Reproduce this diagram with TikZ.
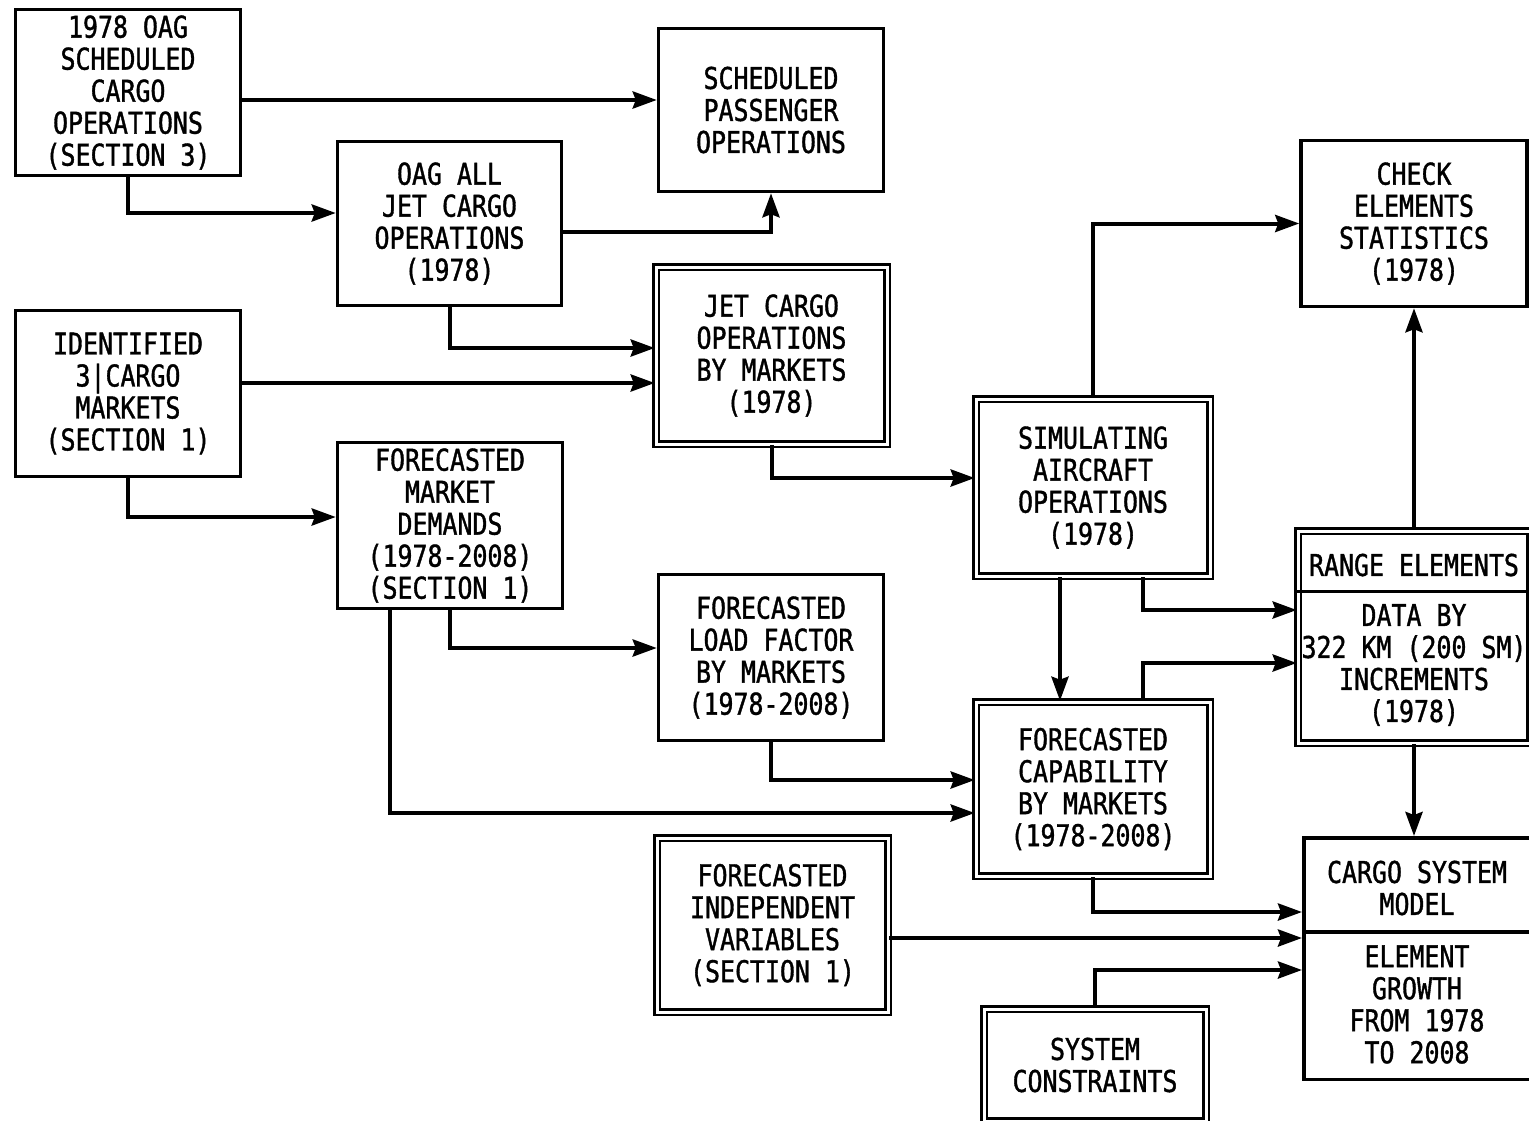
\documentclass[tikz,border=0pt]{standalone}
\usepackage{fontspec}
\setmainfont{DejaVu Sans Mono}[FakeStretch=0.83, FakeBold=1.2]
\usepackage{tikz}
\usetikzlibrary{arrows.meta}
\newcommand{\boxfont}{\fontsize{30}{32}\selectfont}
\tikzset{
->, % every connector is directed
>={Stealth[length=24pt,width=17pt,inset=3pt]}, % long filled heads
every path/.style={line width=4pt}, % heavy pen lines
block/.style={draw, line width=3.5pt, align=center, inner sep=0pt, font=\boxfont, -}, % plain box
dblock/.style={block, double, line width=2.6pt, double distance=3pt}, % double framed box
label/.style={align=center, inner sep=0pt, font=\boxfont}, % text only
}
\begin{document}
\begin{tikzpicture}[x=1pt, y=-1pt, line width=4pt]
\useasboundingbox (0,0) rectangle (1529,1120);

            \node[block, minimum width=225pt, minimum height=166pt] (oag) at (128,92.5) {1978 OAG\\SCHEDULED\\CARGO\\OPERATIONS\\(SECTION 3)};
            \node[block, minimum width=225pt, minimum height=163pt] (pass) at (771,110) {SCHEDULED\\PASSENGER\\OPERATIONS};
            \node[block, minimum width=224pt, minimum height=164pt] (jetall) at (449.5,223.5) {OAG ALL\\JET CARGO\\OPERATIONS\\(1978)};
            \node[dblock, minimum width=231pt, minimum height=177pt] (jetmkt) at (771.5,355.5) {JET CARGO\\OPERATIONS\\BY MARKETS\\(1978)};
            \node[block, minimum width=225pt, minimum height=166pt] (ident) at (128,393.5) {IDENTIFIED\\3|CARGO\\MARKETS\\(SECTION 1)};
            \node[block, minimum width=225pt, minimum height=166pt] (demand) at (450,525.5) {FORECASTED\\MARKET\\DEMANDS\\(1978-2008)\\(SECTION 1)};
            \node[block, minimum width=225pt, minimum height=166pt] (load) at (771,657.5) {FORECASTED\\LOAD FACTOR\\BY MARKETS\\(1978-2008)};
            \node[dblock, minimum width=234pt, minimum height=177pt] (sim) at (1093,487.5) {SIMULATING\\AIRCRAFT\\OPERATIONS\\(1978)};
            \node[block, minimum width=226pt, minimum height=166pt] (check) at (1414,223.5) {CHECK\\ELEMENTS\\STATISTICS\\(1978)};
            \node[dblock, minimum width=232pt, minimum height=212pt] (range) at (1414,637) {};
            \node[label] (rangehead) at (1414,565) {RANGE ELEMENTS};
            \node[label] (rangebody) at (1414,665) {DATA BY\\322 KM (200 SM)\\INCREMENTS\\(1978)};
            \node[dblock, minimum width=234pt, minimum height=174pt] (capab) at (1093,789) {FORECASTED\\CAPABILITY\\BY MARKETS\\(1978-2008)};
            \node[dblock, minimum width=231pt, minimum height=174pt] (indep) at (772.5,925) {FORECASTED\\INDEPENDENT\\VARIABLES\\(SECTION 1)};
            \node[dblock, minimum width=222pt, minimum height=112pt] (constr) at (1095,1065) {SYSTEM\\CONSTRAINTS};
            \node[block, minimum width=226.5pt, minimum height=241.5pt] (model) at (1417,958.5) {};
            \node[label] (modelhead) at (1417,888) {CARGO SYSTEM\\MODEL};
            \node[label] (modelbody) at (1417,1004.5) {ELEMENT\\GROWTH\\FROM 1978\\TO 2008};

            % split lines of the two part boxes
            \draw[-, line width=3pt] (range.west |- 0,591) -- (range.east |- 0,591);
            \draw[-, line width=3.5pt] (model.west |- 0,932) -- (model.east |- 0,932);

            \draw   ([yshift=-7.5pt]oag.east) -- ([yshift=-7.5pt]oag.east -| pass.west);
            \draw   (oag.south) |- ([yshift=10.5pt]jetall.west);
            \draw   ([yshift=-8.5pt]jetall.east) -| (pass.south);
            \draw   (jetall.south) |- ([yshift=7.5pt]jetmkt.west);
            \draw   ([yshift=10.5pt]ident.east) -- ([yshift=10.5pt]ident.east -| jetmkt.west);
            \draw   (ident.south) |- ([yshift=8.5pt]demand.west);
            \draw   (jetmkt.south) |- ([yshift=9.5pt]sim.west);
            \draw   (demand.south) |- ([yshift=9.5pt]load.west);
            \draw   ([xshift=-60pt]demand.south) |- ([yshift=-24pt]capab.west);
            \draw   (load.south) |- ([yshift=9pt]capab.west);
            \draw   (sim.north) |- (check.west);
            \draw   ([xshift=-33pt]sim.south) -- ([xshift=-33pt]capab.north);
            \draw   ([xshift=50pt]sim.south) |- ([yshift=27pt]range.west);
            \draw   ([xshift=50pt]capab.north) |- ([yshift=-26pt]range.west);
            \draw   (range.north) -- (range.north |- check.south);
            \draw   (range.south) -- (range.south |- model.north);
            \draw   (capab.south) |- ([yshift=46.5pt]model.west);
            \draw   ([yshift=-13pt]indep.east) -- ([yshift=-13pt]indep.east -| model.west);
            \draw   (constr.north) |- ([yshift=-11.5pt]model.west);
\end{tikzpicture}
\end{document}
